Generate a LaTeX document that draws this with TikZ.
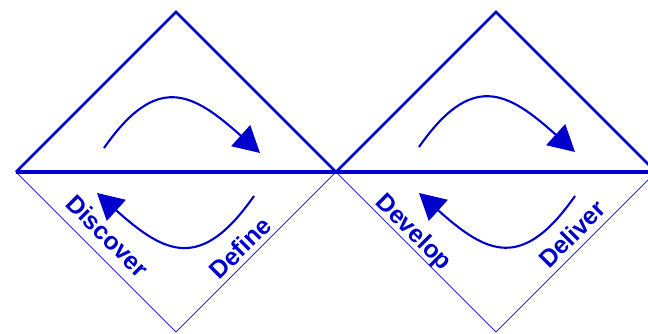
\documentclass[tikz,border=0pt]{standalone}
\usepackage{fontspec}
\setmainfont{Liberation Sans}
\usepackage{xcolor}
\usepackage{tikz}
\usetikzlibrary{arrows.meta}
\definecolor{cLINE}{HTML}{0000CC}

\begin{document}
\begin{tikzpicture}[
  phaselabel/.style={text=cLINE, font=\bfseries\fontsize{17.6}{21}\selectfont, inner sep=0pt},
  topedge/.style={draw=cLINE, line width=2pt},
  botedge/.style={draw=cLINE!85, line width=0.6pt},
  midline/.style={draw=cLINE, line width=2.2pt},
  cyclearr/.style={-{Triangle[length=6.5mm,width=7mm]}, draw=cLINE, line width=1.5pt}
]
\useasboundingbox (-8.4,-4.05) rectangle (7.8,4.3);
\clip (-8.4,-4.05) rectangle (7.8,4.3);

% the two diamonds
\draw[topedge] (-8,0) -- (-4,4) -- (0,0) -- (4,4) -- (8,0);
\draw[botedge] (-8,0) -- (-4,-4) -- (0,0) -- (4,-4) -- (8,0);
\draw[midline] (-8,0) -- (8,0);

% ends of the turning arrows
\coordinate (dis-a) at (-5.8,0.6);
\coordinate (dis-b) at (-1.9,0.475);
\coordinate (def-a) at (-2.05,-0.6);
\coordinate (def-b) at (-5.975,-0.525);
\coordinate (dev-a) at (2.075,0.625);
\coordinate (dev-b) at (5.975,0.5);
\coordinate (del-a) at (5.975,-0.6);
\coordinate (del-b) at (2.075,-0.525);

\draw[cyclearr] (dis-a) to[out=55,in=138,looseness=1.5] (dis-b);
\draw[cyclearr] (def-a) to[out=235,in=318,looseness=1.5] (def-b);
\draw[cyclearr] (dev-a) to[out=55,in=138,looseness=1.5] (dev-b);
\draw[cyclearr] (del-a) to[out=235,in=318,looseness=1.5] (del-b);

\node[phaselabel, rotate=-45] (discover) at (-5.71,-1.6)  {Discover};
\node[phaselabel, rotate=45]  (define)   at (-2.4,-1.9)   {Define};
\node[phaselabel, rotate=-45] (develop)  at (1.925,-1.525) {Develop};
\node[phaselabel, rotate=45]  (deliver)  at (5.9,-1.55)   {Deliver};
\end{tikzpicture}
\end{document}
